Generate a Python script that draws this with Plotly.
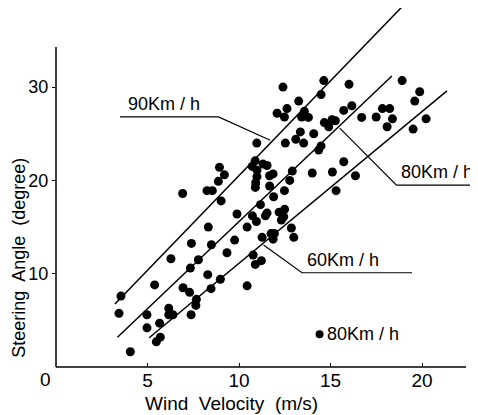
import plotly.graph_objects as go

# Measured points: wind velocity (m/s) vs steering angle (degree)
wind = [3.55, 3.44, 4.06, 4.97, 4.97, 5.39, 5.66, 5.48, 5.70, 6.16, 6.16, 6.39, 6.28, 6.92,
        7.40, 7.34, 6.94, 7.30, 7.38, 7.67, 7.64, 7.78, 8.25, 8.54, 8.32, 8.49, 8.29, 8.47,
        8.93, 9.20, 8.87, 9.02, 8.98, 9.34, 9.76, 9.89, 10.44, 10.44, 10.77, 10.89, 11.22,
        11.26, 10.97, 10.72, 10.88, 10.98, 10.98, 10.91, 10.89, 10.73, 10.95, 11.31, 11.53,
        11.17, 11.44, 11.53, 11.67, 11.86, 11.67, 11.89, 11.75, 11.93, 11.86, 12.08, 12.40,
        12.48, 12.62, 12.53, 12.19, 12.31, 12.44, 12.49, 12.48, 12.77, 12.91, 12.86, 12.99,
        13.10, 13.26, 13.35, 13.42, 13.57, 13.79, 13.53, 14.08, 14.00, 14.35, 14.48, 14.48,
        14.63, 14.66, 14.90, 15.08, 15.26, 15.10, 15.30, 15.72, 15.72, 16.01, 16.16, 16.36,
        16.70, 17.49, 17.83, 18.23, 18.09, 18.38, 18.91, 19.60, 19.87, 19.51, 20.22]
angle = [7.6, 5.75, 1.64, 5.6, 4.2, 8.8, 4.7, 2.7, 3.2, 6.3, 5.6, 5.6, 11.6, 18.6,
         13.25, 10.6, 8.5, 8.0, 5.6, 7.25, 6.6, 11.5, 18.9, 18.9, 15.0, 13.1, 9.9, 8.4,
         21.4, 20.6, 19.9, 17.8, 9.4, 12.25, 13.6, 16.4, 8.7, 15.0, 12.0, 11.0, 11.4,
         13.9, 24.0, 21.5, 22.1, 21.1, 20.4, 19.75, 19.25, 16.2, 15.6, 21.75, 21.6,
         17.4, 16.2, 16.5, 20.5, 20.7, 19.4, 18.25, 14.3, 14.3, 13.7, 27.2, 30.0,
         26.8, 27.7, 24.0, 16.6, 15.75, 16.1, 16.9, 18.9, 20.0, 21.0, 14.9, 13.9,
         24.4, 28.5, 25.2, 26.8, 27.4, 26.75, 24.0, 25.0, 20.8, 23.25, 23.7, 29.2,
         30.7, 26.2, 25.75, 26.5, 26.4, 20.9, 18.9, 22.0, 27.5, 30.3, 28.0, 20.5,
         26.75, 26.8, 27.7, 27.7, 25.75, 26.6, 30.7, 28.5, 29.5, 25.5, 26.6]

# Fitted lines for each vehicle speed (end points)
speed_names = ["90Km / h", "80Km / h", "60Km / h"]
fit_x = [[3.22, 18.9], [3.36, 18.35], [5.09, 21.36]]
fit_y = [[6.75, 38.6], [3.18, 31.2], [3.14, 29.6]]

# Leader lines from labels to the fitted lines
leader_x = [[3.5, 8.88, 11.7], [15.5, 18.6, 22.8], [11.34, 13.44, 19.45]]
leader_y = [[26.8, 26.8, 24.3], [25.6, 19.5, 19.5], [13.07, 10.1, 10.1]]
label_pos = [(5.9, 26.9), (20.8, 19.6), (15.7, 10.2)]

note_x, note_y, note_text = 14.4, 3.5, "80Km / h"

x_ticks = [5, 10, 15, 20]
y_ticks = [10, 20, 30]
x_axis_end = 22.4
y_axis_end = 34.3
x_range = [0, 23]
y_range = [0, 38.48]

FONT = "Liberation Sans"

fig = go.Figure()
fig.add_trace(go.Scatter(x=wind, y=angle, mode="markers",
                         marker=dict(color="black", size=9), cliponaxis=False))
for fx, fy in zip(fit_x, fit_y):
    fig.add_trace(go.Scatter(x=fx, y=fy, mode="lines",
                             line=dict(color="black", width=1.5), cliponaxis=False))
for lx, ly in zip(leader_x, leader_y):
    fig.add_trace(go.Scatter(x=lx, y=ly, mode="lines",
                             line=dict(color="black", width=1.2), cliponaxis=False))
fig.add_trace(go.Scatter(x=[note_x], y=[note_y], mode="markers",
                         marker=dict(color="black", size=8), cliponaxis=False))

annotations = []
for name, (ax, ay) in zip(speed_names, label_pos):
    annotations.append(dict(x=ax, y=ay, xref="x", yref="y", text=name, showarrow=False,
                            xanchor="center", yanchor="bottom",
                            font=dict(family=FONT, size=18, color="black")))
annotations.append(dict(x=note_x + 0.3, y=note_y, xref="x", yref="y", text=note_text,
                        showarrow=False, xanchor="left", yanchor="middle",
                        font=dict(family=FONT, size=18, color="black")))
annotations.append(dict(x=-0.026, y=-0.036, xref="paper", yref="paper", text="0",
                        showarrow=False, xanchor="center", yanchor="middle",
                        font=dict(family=FONT, size=19, color="black")))
annotations.append(dict(x=0.418, y=-0.103, xref="paper", yref="paper",
                        text="Wind  Velocity  (m/s)", showarrow=False,
                        xanchor="center", yanchor="middle",
                        font=dict(family=FONT, size=19, color="black")))
annotations.append(dict(x=-0.088, y=0.304, xref="paper", yref="paper",
                        text="Steering  Angle  (degree)", showarrow=False, textangle=-90,
                        xanchor="center", yanchor="middle",
                        font=dict(family=FONT, size=18, color="black")))

shapes = [
    dict(type="line", xref="paper", yref="paper", x0=0, y0=0,
         x1=x_axis_end / x_range[1], y1=0, line=dict(color="black", width=1.5)),
    dict(type="line", xref="paper", yref="paper", x0=0, y0=0, x1=0,
         y1=y_axis_end / y_range[1], line=dict(color="black", width=1.5)),
]

fig.update_layout(
    width=470, height=407,
    margin=dict(l=48, r=1, t=0, b=48),
    paper_bgcolor="white", plot_bgcolor="white",
    showlegend=False,
    annotations=annotations, shapes=shapes,
    font=dict(family=FONT, size=19, color="black"),
)
fig.update_xaxes(range=x_range, showgrid=False, zeroline=False, showline=False,
                 tickvals=x_ticks, ticks="inside", ticklen=4, tickcolor="black",
                 tickfont=dict(family=FONT, size=19))
fig.update_yaxes(range=y_range, showgrid=False, zeroline=False, showline=False,
                 tickvals=y_ticks, ticks="outside", ticklen=3, tickcolor="black",
                 tickfont=dict(family=FONT, size=18))

fig.write_html("out.html")
